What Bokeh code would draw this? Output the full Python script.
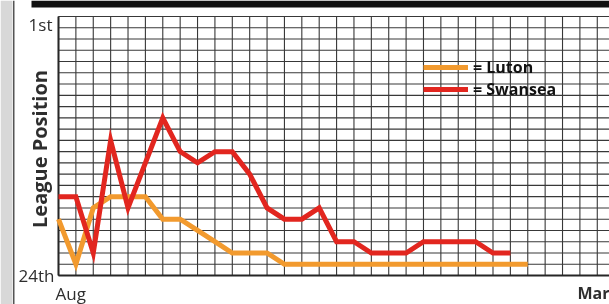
import math
from bokeh.plotting import figure
from bokeh.models import Range1d, Label, BoxAnnotation, Legend, LegendItem
from bokeh.embed import file_html
from bokeh.resources import INLINE

# ---- data (league positions, one value per game) ----
teams = ["Luton", "Swansea"]
luton = [19, 23, 18, 17, 17, 17, 19, 19, 20, 21, 22, 22, 22, 23,
         23, 23, 23, 23, 23, 23, 23, 23, 23, 23, 23, 23, 23, 23]
swansea = [17, 17, 22, 12, 18, 14, 10, 13, 14, 13, 13, 15, 18, 19,
           19, 18, 21, 21, 22, 22, 22, 21, 21, 21, 21, 22, 22]
luton_games = list(range(len(luton)))
swansea_games = list(range(len(swansea)))
position_labels = ["1st", "24th"]
month_labels = ["Aug", "Mar"]
grid_games = list(range(0, 33))
grid_positions = list(range(1, 25))

ORANGE = "#F29A2E"
RED = "#E2261F"
TXT = "#2e2e2e"
GRID = "#383838"

W, H = 609, 304
FL, FT, FB = 58, 16, 275      # grid box left/top/bottom in canvas px
DX = 17.38                    # px per game
DY = (FB - FT) / (grid_positions[-1] - grid_positions[0])  # px per place

x0 = -FL / DX
x1 = (W - FL) / DX
y_top = grid_positions[0] - FT / DY
y_bot = grid_positions[-1] + (H - FB) / DY

p = figure(width=W, height=H, output_backend="svg", toolbar_location=None,
           x_range=Range1d(x0, x1), y_range=Range1d(y_bot, y_top),
           x_axis_location=None, y_axis_location=None,
           min_border=0)
p.styles = {"position": "fixed", "left": "0px", "top": "0px"}
p.background_fill_color = "white"
p.border_fill_color = "white"
p.outline_line_color = None
p.xgrid.visible = False
p.ygrid.visible = False

# chart grid
ymin, ymax = grid_positions[0], grid_positions[-1]
xmin, xmax = grid_games[0], grid_games[-1]
p.segment(x0=grid_games, y0=[ymin] * len(grid_games),
          x1=grid_games, y1=[ymax] * len(grid_games),
          line_color=GRID, line_width=1.1)
p.segment(x0=[xmin] * len(grid_positions), y0=grid_positions,
          x1=[xmax] * len(grid_positions), y1=grid_positions,
          line_color=GRID, line_width=1.1)
# heavier border on left and bottom
p.segment(x0=[xmin, xmin], y0=[ymin, ymax], x1=[xmin, xmax], y1=[ymax, ymax],
          line_color="#262626", line_width=2)

r1 = p.line(luton_games, luton, line_color=ORANGE, line_width=5, line_join="miter")
r2 = p.line(swansea_games, swansea, line_color=RED, line_width=5, line_join="miter")

legend = Legend(items=[LegendItem(label="= " + teams[0], renderers=[r1]),
                       LegendItem(label="= " + teams[1], renderers=[r2])],
                location=(423, H - 100), orientation="vertical",
                glyph_width=45, glyph_height=22, label_height=22,
                label_standoff=5, spacing=-1, padding=0, margin=0,
                border_line_alpha=0, background_fill_alpha=0,
                label_text_font="Open Sans", label_text_font_style="bold",
                label_text_font_size="16px", label_text_color="#111111")
p.add_layout(legend, "center")

# page decorations: top black bar, left page edge
def box(l, r, t, b, color):
    p.add_layout(BoxAnnotation(left=l, right=r, top=H - t, bottom=H - b,
                               left_units="screen", right_units="screen",
                               top_units="screen", bottom_units="screen",
                               fill_color=color, fill_alpha=1, line_alpha=0,
                               level="underlay"))

box(31, W, 0, 7, "#111111")
box(0, 12, 0, H, "#d8d8d8")
box(12.5, 14, 0, H, "#555555")

def lab(text, x, y, align="left", angle=0.0, size="17px", style="normal"):
    p.add_layout(Label(x=x, y=H - y, x_units="screen", y_units="screen",
                       text=text, text_align=align, text_baseline="middle",
                       angle=angle, text_font="Open Sans", text_font_size=size,
                       text_font_style=style, text_color=TXT))

lab(position_labels[0], 52, 24, align="right")
lab(position_labels[1], 54, 275, align="right")
lab(month_labels[0], 55, 293)
lab(month_labels[1], 577, 292.5, size="16px", style="bold")
lab("League Position", 39, 148.5, align="center", angle=math.pi / 2,
    size="20px", style="bold")

open("out.html", "w").write(file_html(p, INLINE))
